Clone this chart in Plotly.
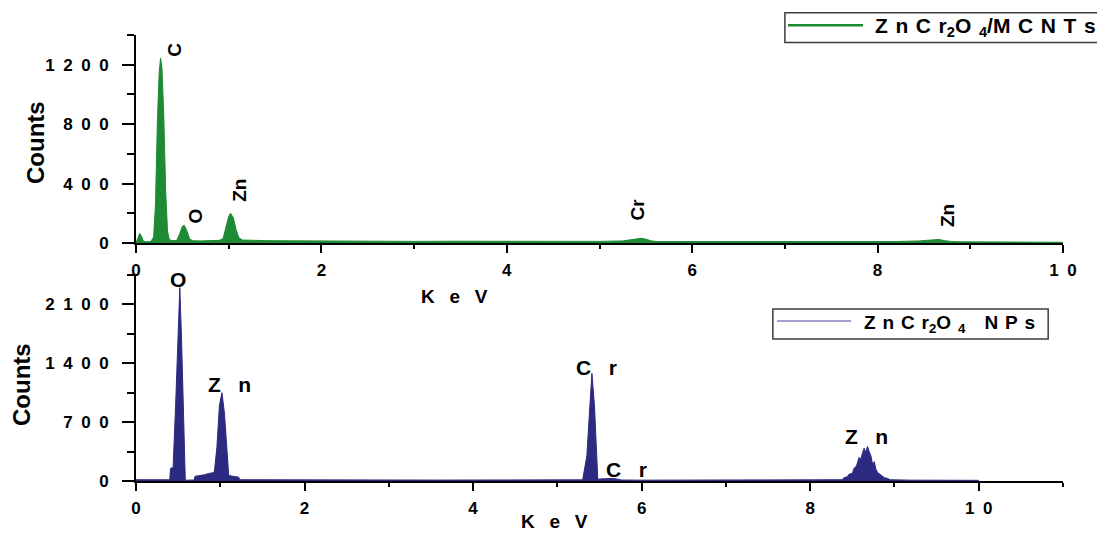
import plotly.graph_objects as go
from plotly.subplots import make_subplots

# ZnCr2O4/MCNTs spectrum (KeV, counts)
mcnt_kev = [0.00, 0.02, 0.04, 0.06, 0.08, 0.12, 0.16, 0.19, 0.21, 0.23, 0.25, 0.265, 0.28, 0.30, 0.32,
            0.34, 0.36, 0.40, 0.44, 0.47, 0.50, 0.52, 0.55, 0.58, 0.62, 0.70, 0.80, 0.90, 0.94, 0.97,
            1.00, 1.02, 1.05, 1.08, 1.11, 1.15, 1.25, 1.40, 1.60, 1.80, 2.00, 2.30, 2.60, 3.00, 3.40,
            3.80, 4.20, 4.60, 5.00, 5.25, 5.32, 5.38, 5.45, 5.50, 5.56, 5.62, 5.80, 6.00, 6.20, 6.60,
            7.00, 7.40, 7.80, 8.20, 8.45, 8.55, 8.62, 8.66, 8.72, 8.80, 8.90, 9.20, 9.60, 10.00]
mcnt_counts = [0, 40, 65, 45, 12, 8, 10, 40, 260, 800, 1150, 1245, 1180, 850, 350,
               80, 22, 15, 18, 60, 112, 120, 80, 25, 15, 14, 16, 18, 30, 100,
               180, 200, 170, 90, 35, 20, 17, 16, 15, 14, 13, 12, 12, 11, 12,
               11, 10, 10, 11, 14, 20, 27, 32, 26, 14, 10, 10, 11, 10, 9,
               9, 8, 9, 10, 14, 20, 26, 24, 16, 10, 8, 7, 6, 5]

# ZnCr2O4 NPs spectrum (KeV, counts)
np_kev = [0.00, 0.10, 0.20, 0.30, 0.40, 0.41, 0.44, 0.47, 0.50, 0.52, 0.54, 0.56, 0.575, 0.585, 0.62,
          0.69, 0.70, 0.74, 0.78, 0.82, 0.86, 0.90, 0.93, 0.96, 0.99, 1.02, 1.05, 1.08, 1.10, 1.13,
          1.17, 1.22, 1.23, 1.40, 1.80, 2.40, 3.00, 3.60, 4.20, 4.80, 5.20, 5.30, 5.31, 5.35, 5.38,
          5.41, 5.44, 5.47, 5.48, 5.52, 5.58, 5.64, 5.70, 5.76, 6.00, 6.60, 7.20, 7.80, 8.20, 8.38,
          8.40, 8.44, 8.46, 8.50, 8.52, 8.55, 8.58, 8.60, 8.62, 8.64, 8.66, 8.68, 8.70, 8.72, 8.74,
          8.76, 8.78, 8.80, 8.84, 8.88, 8.92, 8.95, 9.20, 9.60, 10.00]
np_counts = [15, 16, 14, 15, 14, 150, 160, 900, 1900, 2300, 1700, 800, 200, 10, 10,
             12, 55, 60, 70, 75, 90, 95, 110, 400, 900, 1050, 800, 300, 70, 60,
             55, 45, 15, 14, 12, 13, 12, 11, 12, 11, 12, 14, 70, 300, 800,
             1280, 900, 300, 20, 25, 28, 30, 25, 12, 10, 10, 9, 10, 10, 15,
             40, 50, 80, 90, 150, 180, 280, 260, 330, 390, 340, 410, 350, 300, 200,
             230, 140, 100, 70, 40, 30, 15, 10, 9, 8]

top_ytickvals = [0, 400, 800, 1200]
top_yticktext = ["0", "4\u20020\u20020", "8\u20020\u20020", "1\u20022\u20020\u20020"]
bot_ytickvals = [0, 700, 1400, 2100]
bot_yticktext = ["0", "7\u20020\u20020", "1\u20024\u20020\u20020", "2\u20021\u20020\u20020"]
xtickvals = [0, 2, 4, 6, 8, 10]
xticktext = ["0", "2", "4", "6", "8", "1\u20020"]

# peak labels: (text, KeV, counts)
top_peaks = [("C", 0.42, 1300), ("O", 0.64, 180), ("Zn", 1.12, 357), ("Cr", 5.41, 223), ("Zn", 8.76, 182)]
bot_peaks = [("O", 0.50, 2398), ("Z\u00a0\u00a0\u00a0n", 1.115, 1145), ("C\u00a0\u00a0\u00a0r", 5.47, 1350),
             ("C\u00a0\u00a0\u00a0r", 5.82, 133), ("Z\u00a0\u00a0\u00a0n", 8.67, 530)]

GREEN = "rgb(30,138,52)"
NAVY = "rgb(44,42,128)"
LAVENDER = "rgb(130,130,192)"
FONT = "Liberation Sans, Arial, sans-serif"
GAP = "\u00a0\u200a"

fig = make_subplots(rows=2, cols=1)

fig.add_trace(go.Scatter(x=mcnt_kev, y=mcnt_counts, mode="lines", fill="tozeroy",
                         line=dict(color=GREEN, width=1), fillcolor=GREEN,
                         name="ZnCr2O4/MCNTs", showlegend=False), row=1, col=1)
fig.add_trace(go.Scatter(x=np_kev, y=np_counts, mode="lines", fill="tozeroy",
                         line=dict(color=NAVY, width=1), fillcolor=NAVY,
                         name="ZnCr2O4 NPs", showlegend=False), row=2, col=1)

axis_common = dict(showline=True, linecolor="black", linewidth=2, ticks="outside",
                   tickcolor="black", tickwidth=2, showgrid=False, zeroline=False,
                   tickfont=dict(family=FONT, size=17, color="black", weight="bold"))

fig.update_xaxes(**axis_common, ticklen=8, tickvals=xtickvals, ticktext=xticktext, ticklabelstandoff=3,
                 minor=dict(dtick=1, ticklen=4, ticks="outside", tickcolor="black", tickwidth=2))
fig.update_xaxes(range=[0, 10], row=1, col=1)
fig.update_xaxes(range=[0, 11], row=2, col=1)

fig.update_yaxes(**axis_common, ticklen=12, ticklabelstandoff=10)
fig.update_yaxes(range=[0, 1400], tickvals=top_ytickvals, ticktext=top_yticktext,
                 minor=dict(dtick=200, ticklen=7, ticks="outside", tickcolor="black", tickwidth=2),
                 domain=[0.5336, 1], row=1, col=1)
fig.update_yaxes(range=[0, 2450], tickvals=bot_ytickvals, ticktext=bot_yticktext,
                 minor=dict(dtick=350, ticklen=7, ticks="outside", tickcolor="black", tickwidth=2),
                 domain=[0, 0.4619], row=2, col=1)

# peak labels
for txt, xk, yc in top_peaks:
    fig.add_annotation(x=xk, y=yc, xref="x", yref="y", text=f"<b>{txt}</b>", showarrow=False,
                       textangle=-90, font=dict(family=FONT, size=19, color="black"))
for txt, xk, yc in bot_peaks:
    fig.add_annotation(x=xk, y=yc, xref="x2", yref="y2", text=f"<b>{txt}</b>", showarrow=False,
                       font=dict(family=FONT, size=21, color="black"))

# axis titles
title_font = dict(family=FONT, size=24, color="black")
centered = dict(xref="paper", yref="paper", xanchor="center", yanchor="middle", showarrow=False)
fig.add_annotation(x=-0.109, y=0.760, text="<b>Counts</b>", textangle=-90, font=title_font, **centered)
fig.add_annotation(x=-0.123, y=0.2175, text="<b>Counts</b>", textangle=-90, font=title_font, **centered)
kev_text = "<b>K\u2002\u00a0e\u2002\u00a0V</b>"
fig.add_annotation(x=0.344, y=0.4126, text=kev_text, font=dict(family=FONT, size=19, color="black"), **centered)
fig.add_annotation(x=0.451, y=-0.0919, text=kev_text, font=dict(family=FONT, size=19, color="black"), **centered)

# legend boxes
top_legend = GAP.join(["Z", "n", "C", "r<sub>2</sub>O", "<sub>4</sub>/M", "C", "N", "T", "s"])
bot_legend = GAP.join(["Z", "n", "C", "r<sub>2</sub>O", "<sub>4</sub>"]) + "\u2002\u2002" + GAP.join(["N", "P", "s"])
fig.add_shape(type="rect", xref="paper", yref="paper", x0=0.700, x1=1.043, y0=0.983, y1=1.050,
              line=dict(color="rgb(60,60,60)", width=1.5), fillcolor="white")
fig.add_shape(type="line", xref="paper", yref="paper", x0=0.7033, x1=0.7843, y0=1.022, y1=1.022,
              line=dict(color=GREEN, width=2.5))
fig.add_annotation(x=0.9165, y=1.017, font=dict(family=FONT, size=21, color="black"), **centered,
                   text=f"<b>{top_legend}</b>")
fig.add_shape(type="rect", xref="paper", yref="paper", x0=0.687, x1=0.984, y0=0.3184, y1=0.3857,
              line=dict(color="rgb(60,60,60)", width=1.5), fillcolor="white")
fig.add_shape(type="line", xref="paper", yref="paper", x0=0.6915, x1=0.7713, y0=0.3587, y1=0.3587,
              line=dict(color=LAVENDER, width=1.5))
fig.add_annotation(x=0.878, y=0.352, font=dict(family=FONT, size=19, color="black"), **centered,
                   text=f"<b>{bot_legend}</b>")

# page body adds 8px margin, so shrink the figure to keep the plot area where the reference has it
fig.update_layout(width=1097, height=525, margin=dict(l=128, r=42, t=27, b=52),
                  paper_bgcolor="white", plot_bgcolor="white", showlegend=False,
                  font=dict(family=FONT, color="black"))

fig.write_html("out.html")
